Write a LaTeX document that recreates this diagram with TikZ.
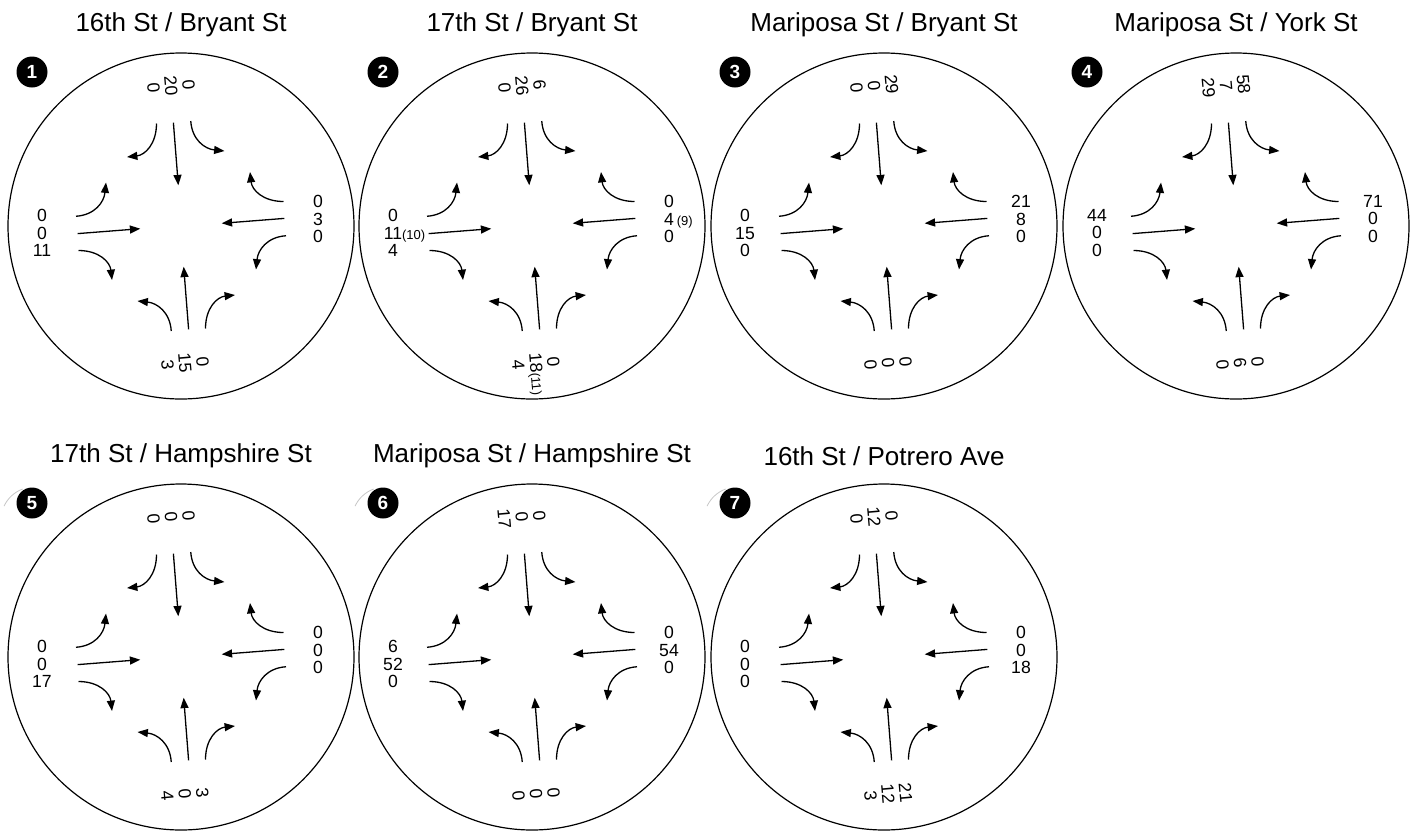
\documentclass[tikz,border=0pt]{standalone}
\usepackage{fontspec}
\setmainfont{Liberation Sans}
\usetikzlibrary{arrows.meta,calc}
\tikzset{
  flow/.style={line width=0.65pt,-{Triangle[length=5.2pt,width=4pt]}},
  ring/.style={draw,circle,line width=0.6pt,minimum size=173pt,inner sep=0pt},
  lbl/.style={font=\fontsize{8.8}{8.8}\selectfont,align=center,inner sep=0pt},
  badge/.style={circle,fill=black,text=white,minimum size=15.5pt,inner sep=0pt,font=\fontsize{9.5}{10}\selectfont\bfseries},
  ttl/.style={font=\fontsize{13}{15}\selectfont,inner sep=0pt},
  halo/.style={draw=gray!45,line width=0.4pt}
}
\newcommand\sm[1]{{\fontsize{6.5}{7}\selectfont #1}}
\newcommand\isect[9]{%
\begin{scope}[shift={(#2,#3)}]
\node[ring] (#1) at (0,0) {};
\foreach \a in {0,90,180,270}{%
 \begin{scope}[rotate=\a]
 \draw[flow] (-7.6,-103.3) -- (-2.7,-40.7);
 \draw[flow] (-24.5,-102.5) .. controls (-24.5,-82) and (-36,-71) .. (-54,-69);
 \draw[flow] (9.75,-105) .. controls (11,-86) and (24,-77) .. (43.5,-75);
 \end{scope}}
\node[lbl,rotate=-85] (#1n) at (-10,-140) {#4};
\node[lbl] (#1w) at (-139,7) {#5};
\node[lbl] (#1e) at (137,-7) {#6};
\node[lbl,rotate=-85] (#1s) at (4,137) {#7};
\node[badge] (#1b) at (-149,-154) {#8};
\node[ttl] (#1t) at (0,-201) {#9};
\end{scope}}
\begin{document}
\begin{tikzpicture}[x=0.5pt,y=-0.5pt]
\useasboundingbox (0,0) rectangle (1419,831);
\isect{c1}{181}{226}{0\\20\\0}{0\\0\\11}{0\\3\\0}{0\\15\\3}{1}{16th St / Bryant St}
\isect{c2}{532}{226}{6\\26\\0}{0\\11\rlap{\sm{(10)}}\\4}{0\\4\rlap{\,\sm{(9)}}\\0}{0\\18\rlap{\sm{(11)}}\\4}{2}{17th St / Bryant St}
\isect{c3}{884}{226}{29\\0\\0}{0\\15\\0}{21\\8\\0}{0\\0\\0}{3}{Mariposa St / Bryant St}
\isect{c4}{1236}{226}{58\\7\\29}{44\\0\\0}{71\\0\\0}{0\\6\\0}{4}{Mariposa St / York St}
\isect{c5}{181}{657}{0\\0\\0}{0\\0\\17}{0\\0\\0}{3\\0\\4}{5}{17th St / Hampshire St}
\isect{c6}{532}{657}{0\\0\\17}{6\\52\\0}{0\\54\\0}{0\\0\\0}{6}{Mariposa St / Hampshire St}
\isect{c7}{884}{657}{0\\12\\0}{0\\0\\0}{0\\0\\18}{21\\12\\3}{7}{16th St / Potrero Ave}
\foreach \b in {c5b,c6b,c7b}{
  \draw[halo] (\b.center) ++(2,17) ++(-110:33) arc[start angle=-110,end angle=-155,radius=33];
}
\end{tikzpicture}
\end{document}
